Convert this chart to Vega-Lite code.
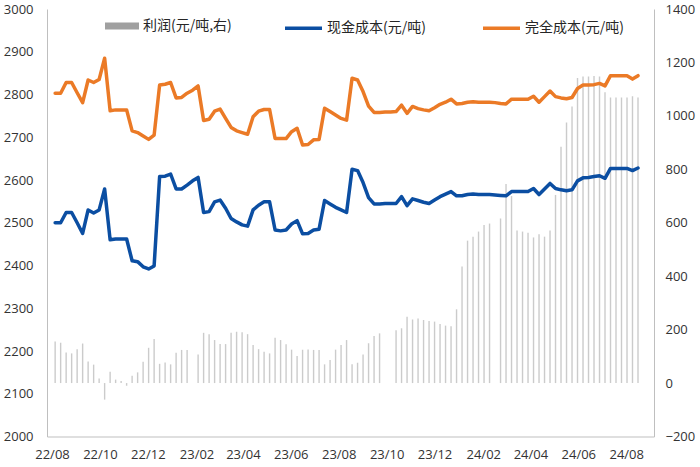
{
  "$schema": "https://vega.github.io/schema/vega-lite/v6.json",
  "width": 607,
  "height": 427.5,
  "autosize": {"type": "none"},
  "padding": {"left": 47, "top": 9, "right": 46, "bottom": 30.5},
  "background": "white",
  "config": {
    "view": {"stroke": null},
    "font": "Open Sans",
    "axis": {"labelFont": "Open Sans", "labelFontSize": 13, "labelColor": "#333333", "domainColor": "#bfbfbf", "domainWidth": 1, "ticks": false, "grid": false}
  },
  "data": {
    "format": {"parse": {"date": "date:'%Y-%m-%d'"}},
    "values": [
      {"date": "2022-08-05", "profit": 156, "cash": 2500, "full": 2803},
      {"date": "2022-08-12", "profit": 151, "cash": 2500, "full": 2803},
      {"date": "2022-08-19", "profit": 114, "cash": 2524, "full": 2828},
      {"date": "2022-08-26", "profit": 111, "cash": 2524, "full": 2828},
      {"date": "2022-09-02", "profit": 127, "cash": 2500, "full": 2804},
      {"date": "2022-09-09", "profit": 148, "cash": 2475, "full": 2781},
      {"date": "2022-09-16", "profit": 81, "cash": 2530, "full": 2834},
      {"date": "2022-09-23", "profit": 69, "cash": 2523, "full": 2828},
      {"date": "2022-09-30", "profit": 17, "cash": 2530, "full": 2835},
      {"date": "2022-10-07", "profit": -62, "cash": 2579, "full": 2885},
      {"date": "2022-10-14", "profit": 42, "cash": 2460, "full": 2762},
      {"date": "2022-10-21", "profit": 13, "cash": 2462, "full": 2764},
      {"date": "2022-10-28", "profit": 8, "cash": 2462, "full": 2764},
      {"date": "2022-11-04", "profit": -10, "cash": 2462, "full": 2764},
      {"date": "2022-11-11", "profit": 27, "cash": 2411, "full": 2715},
      {"date": "2022-11-18", "profit": 40, "cash": 2409, "full": 2711},
      {"date": "2022-11-25", "profit": 80, "cash": 2397, "full": 2703},
      {"date": "2022-12-02", "profit": 132, "cash": 2392, "full": 2695},
      {"date": "2022-12-09", "profit": 165, "cash": 2399, "full": 2705},
      {"date": "2022-12-16", "profit": 72, "cash": 2608, "full": 2822},
      {"date": "2022-12-23", "profit": 77, "cash": 2609, "full": 2824},
      {"date": "2022-12-30", "profit": 70, "cash": 2614, "full": 2828},
      {"date": "2023-01-06", "profit": 113, "cash": 2579, "full": 2792},
      {"date": "2023-01-13", "profit": 124, "cash": 2579, "full": 2793},
      {"date": "2023-01-20", "profit": 124, "cash": 2588, "full": 2803},
      {"date": "2023-01-27", "profit": null, "cash": 2598, "full": 2810},
      {"date": "2023-02-03", "profit": 107, "cash": 2606, "full": 2820},
      {"date": "2023-02-10", "profit": 188, "cash": 2524, "full": 2739},
      {"date": "2023-02-17", "profit": 183, "cash": 2526, "full": 2742},
      {"date": "2023-02-24", "profit": 161, "cash": 2549, "full": 2761},
      {"date": "2023-03-03", "profit": 146, "cash": 2553, "full": 2766},
      {"date": "2023-03-10", "profit": 146, "cash": 2534, "full": 2744},
      {"date": "2023-03-17", "profit": 188, "cash": 2510, "full": 2723},
      {"date": "2023-03-24", "profit": 192, "cash": 2502, "full": 2715},
      {"date": "2023-03-31", "profit": 190, "cash": 2495, "full": 2711},
      {"date": "2023-04-07", "profit": 183, "cash": 2492, "full": 2707},
      {"date": "2023-04-14", "profit": 142, "cash": 2530, "full": 2748},
      {"date": "2023-04-21", "profit": 127, "cash": 2541, "full": 2761},
      {"date": "2023-04-28", "profit": 117, "cash": 2549, "full": 2765},
      {"date": "2023-05-05", "profit": 111, "cash": 2549, "full": 2765},
      {"date": "2023-05-12", "profit": 170, "cash": 2483, "full": 2697},
      {"date": "2023-05-19", "profit": 161, "cash": 2481, "full": 2697},
      {"date": "2023-05-26", "profit": 145, "cash": 2483, "full": 2697},
      {"date": "2023-06-02", "profit": 125, "cash": 2497, "full": 2713},
      {"date": "2023-06-09", "profit": 101, "cash": 2505, "full": 2721},
      {"date": "2023-06-16", "profit": 125, "cash": 2474, "full": 2682},
      {"date": "2023-06-23", "profit": 126, "cash": 2475, "full": 2683},
      {"date": "2023-06-30", "profit": 124, "cash": 2483, "full": 2694},
      {"date": "2023-07-07", "profit": 124, "cash": 2485, "full": 2695},
      {"date": "2023-07-14", "profit": 70, "cash": 2552, "full": 2768},
      {"date": "2023-07-21", "profit": 86, "cash": 2544, "full": 2760},
      {"date": "2023-07-28", "profit": 125, "cash": 2536, "full": 2752},
      {"date": "2023-08-04", "profit": 142, "cash": 2530, "full": 2744},
      {"date": "2023-08-11", "profit": 161, "cash": 2524, "full": 2740},
      {"date": "2023-08-18", "profit": 70, "cash": 2625, "full": 2838},
      {"date": "2023-08-25", "profit": 76, "cash": 2622, "full": 2834},
      {"date": "2023-09-01", "profit": 107, "cash": 2594, "full": 2807},
      {"date": "2023-09-08", "profit": 149, "cash": 2559, "full": 2773},
      {"date": "2023-09-15", "profit": 176, "cash": 2544, "full": 2758},
      {"date": "2023-09-22", "profit": 186, "cash": 2544, "full": 2758},
      {"date": "2023-09-29", "profit": null, "cash": 2545, "full": 2759},
      {"date": "2023-10-06", "profit": null, "cash": 2545, "full": 2759},
      {"date": "2023-10-13", "profit": 198, "cash": 2545, "full": 2760},
      {"date": "2023-10-20", "profit": 205, "cash": 2561, "full": 2775},
      {"date": "2023-10-27", "profit": 248, "cash": 2540, "full": 2756},
      {"date": "2023-11-03", "profit": 238, "cash": 2556, "full": 2772},
      {"date": "2023-11-10", "profit": 242, "cash": 2552, "full": 2767},
      {"date": "2023-11-17", "profit": 236, "cash": 2548, "full": 2764},
      {"date": "2023-11-24", "profit": 232, "cash": 2545, "full": 2762},
      {"date": "2023-12-01", "profit": 230, "cash": 2553, "full": 2769},
      {"date": "2023-12-08", "profit": 221, "cash": 2561, "full": 2777},
      {"date": "2023-12-15", "profit": 215, "cash": 2567, "full": 2782},
      {"date": "2023-12-22", "profit": 213, "cash": 2573, "full": 2789},
      {"date": "2023-12-29", "profit": 276, "cash": 2563, "full": 2778},
      {"date": "2024-01-05", "profit": 436, "cash": 2563, "full": 2779},
      {"date": "2024-01-12", "profit": 533, "cash": 2566, "full": 2782},
      {"date": "2024-01-19", "profit": 548, "cash": 2567, "full": 2783},
      {"date": "2024-01-26", "profit": 567, "cash": 2566, "full": 2782},
      {"date": "2024-02-02", "profit": 592, "cash": 2566, "full": 2782},
      {"date": "2024-02-09", "profit": 597, "cash": 2566, "full": 2782},
      {"date": "2024-02-16", "profit": null, "cash": 2565, "full": 2781},
      {"date": "2024-02-23", "profit": 616, "cash": 2564, "full": 2779},
      {"date": "2024-03-01", "profit": 745, "cash": 2563, "full": 2778},
      {"date": "2024-03-08", "profit": 700, "cash": 2573, "full": 2789},
      {"date": "2024-03-15", "profit": 571, "cash": 2573, "full": 2789},
      {"date": "2024-03-22", "profit": 567, "cash": 2573, "full": 2789},
      {"date": "2024-03-29", "profit": 563, "cash": 2573, "full": 2789},
      {"date": "2024-04-05", "profit": 545, "cash": 2580, "full": 2796},
      {"date": "2024-04-12", "profit": 557, "cash": 2566, "full": 2782},
      {"date": "2024-04-19", "profit": 548, "cash": 2579, "full": 2795},
      {"date": "2024-04-26", "profit": 571, "cash": 2592, "full": 2808},
      {"date": "2024-05-03", "profit": 704, "cash": 2580, "full": 2795},
      {"date": "2024-05-10", "profit": 884, "cash": 2577, "full": 2792},
      {"date": "2024-05-17", "profit": 975, "cash": 2575, "full": 2790},
      {"date": "2024-05-24", "profit": 1035, "cash": 2577, "full": 2793},
      {"date": "2024-05-31", "profit": 1142, "cash": 2598, "full": 2814},
      {"date": "2024-06-07", "profit": 1147, "cash": 2605, "full": 2822},
      {"date": "2024-06-14", "profit": 1147, "cash": 2606, "full": 2822},
      {"date": "2024-06-21", "profit": 1149, "cash": 2608, "full": 2823},
      {"date": "2024-06-28", "profit": 1147, "cash": 2610, "full": 2826},
      {"date": "2024-07-05", "profit": 1088, "cash": 2604, "full": 2820},
      {"date": "2024-07-12", "profit": 1069, "cash": 2627, "full": 2844},
      {"date": "2024-07-19", "profit": 1069, "cash": 2627, "full": 2844},
      {"date": "2024-07-26", "profit": 1069, "cash": 2627, "full": 2844},
      {"date": "2024-08-02", "profit": 1069, "cash": 2627, "full": 2844},
      {"date": "2024-08-09", "profit": 1073, "cash": 2622, "full": 2836},
      {"date": "2024-08-16", "profit": 1069, "cash": 2628, "full": 2844}
    ]
  },
  "encoding": {
    "x": {
      "field": "date",
      "type": "temporal",
      "scale": {"domain": [{"year": 2022, "month": 8, "date": 1}, {"year": 2024, "month": 8, "date": 30}]},
      "axis": {
        "title": null,
        "format": "%y/%m",
        "labelPadding": 12,
        "labelFlush": false,
        "labelOverlap": false,
        "values": [
          {"year": 2022, "month": 8, "date": 1},
          {"year": 2022, "month": 10, "date": 1},
          {"year": 2022, "month": 12, "date": 1},
          {"year": 2023, "month": 2, "date": 1},
          {"year": 2023, "month": 4, "date": 1},
          {"year": 2023, "month": 6, "date": 1},
          {"year": 2023, "month": 8, "date": 1},
          {"year": 2023, "month": 10, "date": 1},
          {"year": 2023, "month": 12, "date": 1},
          {"year": 2024, "month": 2, "date": 1},
          {"year": 2024, "month": 4, "date": 1},
          {"year": 2024, "month": 6, "date": 1},
          {"year": 2024, "month": 8, "date": 1}
        ]
      }
    }
  },
  "layer": [
    {
      "mark": {"type": "bar", "size": 1.4, "fillOpacity": 0.55},
      "encoding": {
        "y": {
          "field": "profit",
          "type": "quantitative",
          "scale": {"domain": [-200, 1400], "nice": false},
          "axis": {"orient": "right", "title": null, "format": "d", "values": [-200, 0, 200, 400, 600, 800, 1000, 1200, 1400], "labelPadding": 11}
        },
        "fill": {
          "datum": "利润(元/吨,右)",
          "scale": {"range": ["#a0a0a0"]},
          "legend": {
            "orient": "none", "legendX": 58, "legendY": 0, "title": null, "padding": 0,
            "symbolType": "M-1,-0.2H1V0.2H-1Z", "symbolSize": 1156, "symbolStrokeWidth": 0, "symbolOpacity": 1,
            "labelFont": "Noto Sans CJK SC", "labelFontSize": 14, "labelColor": "#262626", "labelOffset": 4,
            "encode": {"symbols": {"update": {"fillOpacity": {"value": 1}, "opacity": {"value": 1}}}}
          }
        }
      }
    },
    {
      "layer": [
        {
          "mark": {"type": "line", "strokeWidth": 3.5, "strokeJoin": "round", "strokeCap": "round"},
          "encoding": {
            "y": {
              "field": "cash",
              "type": "quantitative",
              "scale": {"domain": [2000, 3000], "nice": false, "zero": false},
              "axis": {"orient": "left", "title": null, "format": "d", "values": [2000, 2100, 2200, 2300, 2400, 2500, 2600, 2700, 2800, 2900, 3000], "labelPadding": 14}
            },
            "stroke": {
              "datum": "现金成本(元/吨)",
              "scale": {"domain": ["现金成本(元/吨)", "完全成本(元/吨)"], "range": ["#0B4EA2", "#EB7A26"]},
              "legend": {
                "orient": "none", "legendX": 236, "legendY": -1.5, "title": null, "padding": 0, "direction": "horizontal",
                "symbolType": "stroke", "symbolSize": 1369, "symbolStrokeWidth": 3.5,
                "labelFont": "Noto Sans CJK SC", "labelFontSize": 14, "labelColor": "#262626", "labelOffset": 3, "columnPadding": 50
              }
            }
          }
        },
        {
          "mark": {"type": "line", "strokeWidth": 3.5, "strokeJoin": "round", "strokeCap": "round"},
          "encoding": {
            "y": {
              "field": "full",
              "type": "quantitative",
              "scale": {"domain": [2000, 3000], "nice": false, "zero": false},
              "axis": {"orient": "left", "title": null, "format": "d", "values": [2000, 2100, 2200, 2300, 2400, 2500, 2600, 2700, 2800, 2900, 3000], "labelPadding": 14}
            },
            "stroke": {"datum": "完全成本(元/吨)"}
          }
        }
      ]
    }
  ],
  "resolve": {"scale": {"y": "independent"}}
}
